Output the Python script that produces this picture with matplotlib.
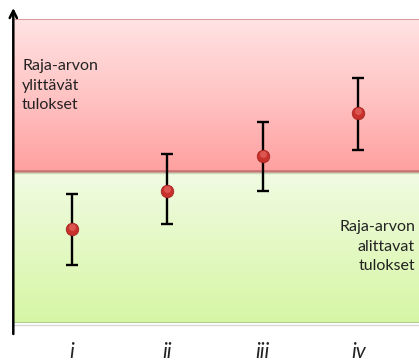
import numpy as np
import matplotlib
matplotlib.use("Agg")
from matplotlib import pyplot as plt
from matplotlib.colors import LinearSegmentedColormap

# categories and measured values (arbitrary units, limit value at 5)
categories = ["i", "ii", "iii", "iv"]
means = [3.1, 4.35, 5.5, 6.9]
lower = [1.9, 3.25, 4.35, 5.7]
upper = [4.25, 5.55, 6.6, 8.05]
limit = 5.0
y_max = 10.0

label_above = "Raja-arvon\nylittävät\ntulokset"
label_below = "Raja-arvon\nalittavat\ntulokset"

plt.rcParams['font.family'] = ['Lato', 'DejaVu Sans']

W, H = 419, 362
fig = plt.figure(figsize=(W / 100, H / 100), dpi=100)
ax = fig.add_axes([14 / W, 39 / H, 405 / W, 304 / H])

x = np.arange(1, len(categories) + 1)
xlim = (1 - 58 / 95.4, 1 + 405 / 95.4 - 58 / 95.4)
ax.set_xlim(*xlim)
ax.set_ylim(0, y_max)

# gradient backgrounds
grad = np.linspace(0, 1, 256).reshape(-1, 1)
red_cmap = LinearSegmentedColormap.from_list("r", ["#ffa0a0", "#ffc4c4", "#ffe3e3"])
green_cmap = LinearSegmentedColormap.from_list("g", ["#d6f6a4", "#f1fbe3"])
ax.imshow(grad, cmap=red_cmap, aspect="auto", origin="lower",
          extent=[xlim[0], xlim[1], limit, y_max], zorder=0)
ax.imshow(grad, cmap=green_cmap, aspect="auto", origin="lower",
          extent=[xlim[0], xlim[1], 0, limit], zorder=0)
ax.axhline(y_max, color="#d48b8b", lw=1.2, zorder=1)
ax.axhline(limit, color="#c47272", lw=1.8, zorder=1)
ax.axhline(limit - 0.05, color="#c9d9b8", lw=1.0, zorder=1)
ax.axhline(0, color="#a9c98f", lw=1.4, zorder=1)
ax.axhline(-0.05, color="#d8d8d8", lw=1.0, zorder=1, clip_on=False)

# error bars and points
m = np.array(means)
yerr = [m - np.array(lower), np.array(upper) - m]
ax.errorbar(x, m, yerr=yerr, fmt="none", ecolor="black", elinewidth=1.7,
            capsize=4.4, capthick=1.7, zorder=3)
ax.plot(x, m, "o", ms=9, mfc="#c8302c", mec="#a52623", mew=0.6, zorder=4)
ax.plot(x, m + 0.06, "o", ms=5, mfc="#e0605a", mec="none", alpha=0.8, zorder=5)

# region labels
ax.text(xlim[0] + 8 / 95.4, 7.8, label_above, ha="left", va="center",
        fontsize=11.5, color="#222222", linespacing=1.5)
ax.text(xlim[1] - 4 / 95.4, 2.5, label_below, ha="right", va="center",
        fontsize=11.5, color="#222222", linespacing=1.5)

ax.set_xticks(x)
ax.set_xticklabels(categories, fontstyle="italic", fontsize=15, color="#222222")
ax.tick_params(axis="x", length=0, pad=14)
ax.set_yticks([])
for s in ax.spines.values():
    s.set_visible(False)

# vertical axis arrow
ax.annotate("", xy=(13.3, H - 8), xytext=(13.3, H - 334),
            xycoords="figure pixels", textcoords="figure pixels",
            arrowprops=dict(arrowstyle="->", lw=1.8, color="black",
                            mutation_scale=13, shrinkA=0, shrinkB=0))

fig.savefig("out.png", dpi=100)
